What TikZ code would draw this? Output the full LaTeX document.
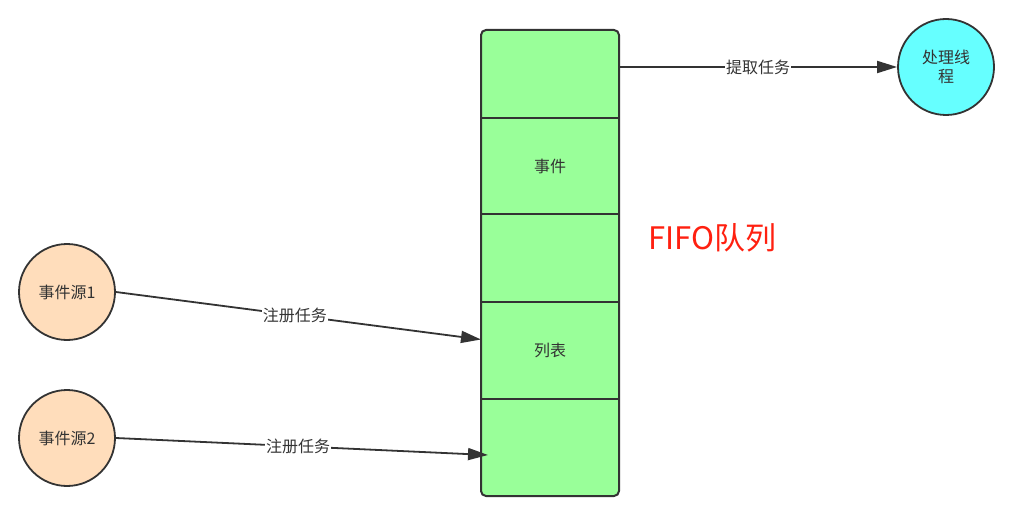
\documentclass[tikz,border=0pt]{standalone}
\usepackage{fontspec}
\newfontfamily\cjk{Noto Sans CJK SC}
\usetikzlibrary{arrows.meta}
\definecolor{qgreen}{HTML}{99FF99}
\definecolor{qcyan}{HTML}{66FFFF}
\definecolor{qpeach}{HTML}{FFDDBB}
\definecolor{qline}{HTML}{333333}
\definecolor{qred}{HTML}{FF2010}
\begin{document}
\begin{tikzpicture}[x=1pt,y=-1pt,
  every node/.style={font=\cjk\fontsize{16}{19}\selectfont, text=qline},
  cell/.style={minimum width=138pt, inner sep=0pt, outer sep=0pt},
  circ/.style={circle, draw=qline, line width=1.8pt, minimum size=96pt, inner sep=0pt, align=center},
  conn/.style={draw=qline, line width=1.8pt, -{Triangle[length=20pt,width=12pt]}},
  lbl/.style={fill=white, inner sep=1pt}]
\useasboundingbox (0,0) rectangle (1011,521);
% queue outer box
\draw[fill=qgreen, draw=qline, line width=2pt, rounded corners=5pt] (481,30) rectangle (619,496);
\node[cell, minimum height=88pt] (c1) at (550,74) {};
\node[cell, minimum height=96pt] (c2) at (550,166) {事件};
\node[cell, minimum height=88pt] (c3) at (550,258) {};
\node[cell, minimum height=97pt] (c4) at (550,350.5) {列表};
\node[cell, minimum height=97pt] (c5) at (550,447.5) {};
\draw[qline, line width=2pt] (c1.south west) -- (c1.south east);
\draw[qline, line width=2pt] (c2.south west) -- (c2.south east);
\draw[qline, line width=2pt] (c3.south west) -- (c3.south east);
\draw[qline, line width=2pt] (c4.south west) -- (c4.south east);
% circles
\node[circ, fill=qcyan] (proc) at (946,67) {处理线\\程};
\node[circ, fill=qpeach] (s1) at (67,292) {事件源1};
\node[circ, fill=qpeach] (s2) at (67,438) {事件源2};
% connectors
\path[conn] (c1.east |- proc) -- node[lbl, pos=0.5] {提取任务} (proc);
\path[conn] (s1.east) -- node[lbl, pos=0.49] {注册任务} ([yshift=11pt]c4.west);
\path[conn] (s2.east) -- node[lbl, pos=0.49] {注册任务} ([xshift=7pt,yshift=-7.5pt]c5.west);
% label
\node[font=\cjk\fontsize{31}{36}\selectfont, text=qred] (fifo) at (712,238) {FIFO队列};
\end{tikzpicture}
\end{document}
